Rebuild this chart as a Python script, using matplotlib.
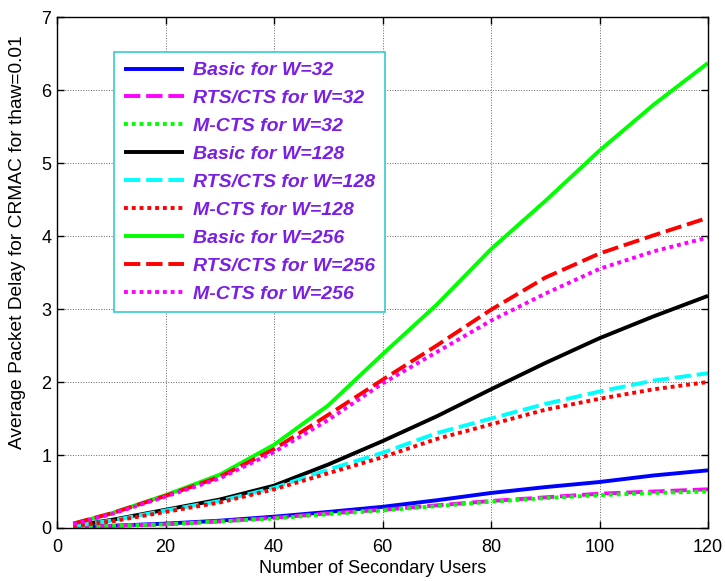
import matplotlib
matplotlib.use("Agg")
import matplotlib.pyplot as plt
from matplotlib.ticker import MultipleLocator

plt.rcParams['font.family'] = ['Liberation Sans', 'DejaVu Sans']

users = [3, 10, 20, 30, 40, 50, 60, 70, 80, 90, 100, 110, 120]

basic_32 = [0.01, 0.03, 0.06, 0.10, 0.155, 0.22, 0.29, 0.38, 0.48, 0.56, 0.63, 0.72, 0.79]
rts_32 = [0.01, 0.03, 0.05, 0.09, 0.14, 0.20, 0.25, 0.31, 0.37, 0.42, 0.47, 0.50, 0.53]
mcts_32 = [0.01, 0.03, 0.05, 0.09, 0.13, 0.19, 0.24, 0.30, 0.36, 0.41, 0.45, 0.48, 0.50]
basic_128 = [0.03, 0.11, 0.25, 0.39, 0.58, 0.87, 1.19, 1.53, 1.90, 2.26, 2.60, 2.90, 3.18]
rts_128 = [0.03, 0.10, 0.24, 0.37, 0.55, 0.80, 1.03, 1.30, 1.50, 1.70, 1.87, 2.02, 2.12]
mcts_128 = [0.03, 0.09, 0.22, 0.35, 0.53, 0.75, 0.97, 1.22, 1.42, 1.62, 1.77, 1.90, 2.00]
basic_256 = [0.06, 0.20, 0.45, 0.73, 1.14, 1.68, 2.38, 3.06, 3.82, 4.48, 5.17, 5.80, 6.37]
rts_256 = [0.06, 0.20, 0.44, 0.70, 1.08, 1.55, 2.03, 2.50, 2.99, 3.43, 3.76, 4.01, 4.25]
mcts_256 = [0.05, 0.19, 0.43, 0.68, 1.04, 1.48, 1.98, 2.41, 2.84, 3.21, 3.55, 3.79, 3.98]

labels = ['Basic for W=32', 'RTS/CTS for W=32', 'M-CTS for W=32',
          'Basic for W=128', 'RTS/CTS for W=128', 'M-CTS for W=128',
          'Basic for W=256', 'RTS/CTS for W=256', 'M-CTS for W=256']

x_label = 'Number of Secondary Users'
y_label = 'Average Packet Delay for CRMAC for thaw=0.01'

fig = plt.figure(figsize=(7.25, 5.81), dpi=100)
ax = fig.add_axes([57/725, 1-528/581, (708-57)/725, (528-17)/581])

lw = 2.8
dash = (0, (4.2, 1.5))
dot = (0, (1.0, 1.0))

series = [
    (basic_32, '#0000FF', '-'),
    (rts_32, '#FF00FF', dash),
    (mcts_32, '#00FF00', dot),
    (basic_128, '#000000', '-'),
    (rts_128, '#00FFFF', dash),
    (mcts_128, '#FF0000', dot),
    (basic_256, '#00FF00', '-'),
    (rts_256, '#FF0000', dash),
    (mcts_256, '#FF00FF', dot),
]

for (vals, color, ls), lab in zip(series, labels):
    ax.plot(users, vals, color=color, linestyle=ls, linewidth=lw, label=lab,
            dash_capstyle='butt', solid_capstyle='butt')

ax.set_xlim(0, 120)
ax.set_ylim(0, 7)
ax.xaxis.set_major_locator(MultipleLocator(20))
ax.yaxis.set_major_locator(MultipleLocator(1))
ax.grid(True, linestyle=':', color='#666666', linewidth=0.7)
ax.tick_params(direction='in', length=5, width=1, top=True, right=True,
               labelsize=13, colors='black')
ax.tick_params(axis='x', pad=8)
ax.tick_params(axis='y', pad=4)
for s in ax.spines.values():
    s.set_linewidth(1.0)
ax.set_xlabel(x_label, fontsize=13)
ax.xaxis.set_label_coords(0.485, -0.062)
ax.set_ylabel(y_label, fontsize=13.8)
ax.yaxis.set_label_coords(-0.047, 0.56)

leg = ax.legend(loc='upper left', bbox_to_anchor=(114/725, 1-52/581),
                bbox_transform=fig.transFigure, fancybox=False, framealpha=1,
                edgecolor='#33CCCC', handlelength=3.1, handletextpad=0.45,
                labelspacing=0.53, borderpad=0.5, borderaxespad=0,
                prop={'weight': 'bold', 'style': 'italic', 'size': 14})
leg.get_frame().set_linewidth(1.2)
for t in leg.get_texts():
    t.set_color('#7B1FE4')

fig.savefig('out.png', dpi=100)
